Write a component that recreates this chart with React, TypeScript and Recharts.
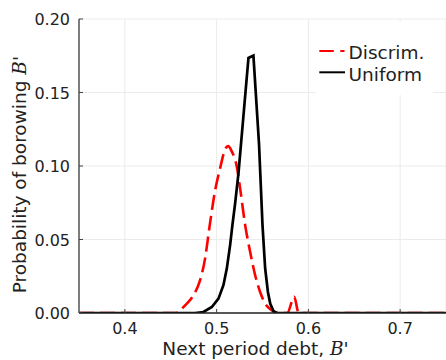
import React from 'react';
import { LineChart, Line, XAxis, YAxis, CartesianGrid, Legend, Label } from 'recharts';

// Discriminatory policy (red dashed)
const discrimX = [0.35, 0.456, 0.4583, 0.4656, 0.4747, 0.482, 0.4874, 0.4925, 0.4984, 0.5038, 0.5093, 0.5125, 0.5166, 0.522, 0.5256, 0.5311, 0.5365, 0.542, 0.5474, 0.5529, 0.5602, 0.5674, 0.577, 0.5845, 0.5895, 0.75];
const discrimY = [0, 0, 0.0007, 0.0052, 0.0121, 0.0223, 0.037, 0.0598, 0.0835, 0.0985, 0.1115, 0.1135, 0.1098, 0.0995, 0.0848, 0.0598, 0.0416, 0.0257, 0.0143, 0.0064, 0.0018, 0, 0, 0.011, 0, 0];

// Uniform policy (black solid)
const uniformX = [0.35, 0.4765, 0.4856, 0.4948, 0.502, 0.5074, 0.5111, 0.5147, 0.5172, 0.5202, 0.5238, 0.5347, 0.5401, 0.5462, 0.55, 0.5529, 0.5559, 0.5584, 0.562, 0.5657, 0.75];
const uniformY = [0, 0, 0.0007, 0.0041, 0.0098, 0.0189, 0.0302, 0.0462, 0.0598, 0.0748, 0.095, 0.1735, 0.1751, 0.115, 0.0598, 0.0303, 0.0143, 0.0064, 0.0012, 0, 0];

const xTicks = [0.4, 0.5, 0.6, 0.7];
const yTicks = [0, 0.05, 0.1, 0.15, 0.2];
const seriesNames = ['Discrim.', 'Uniform'];

const discrimData = discrimX.map((x, i) => ({ x, y: discrimY[i] }));
const uniformData = uniformX.map((x, i) => ({ x, y: uniformY[i] }));

const FONT = '"DejaVu Sans", sans-serif';
const TEXT = '#222';

const YTick = (props: any) => {
  const { x, y, payload } = props;
  return (
    <g>
      <line x1={x} x2={x + 4} y1={y} y2={y} stroke="#444" strokeWidth={1} />
      <text x={x - 9} y={y + 6} textAnchor="end" fontSize={16} fontFamily={FONT} fill={TEXT}>
        {Number(payload.value).toFixed(2)}
      </text>
    </g>
  );
};

const XTick = (props: any) => {
  const { x, y, payload } = props;
  return (
    <g>
      <line x1={x} x2={x} y1={y} y2={y - 4} stroke="#444" strokeWidth={1} />
      <text x={x} y={y + 20.5} textAnchor="middle" fontSize={16} fontFamily={FONT} fill={TEXT}>
        {Number(payload.value).toFixed(1)}
      </text>
    </g>
  );
};

const renderLegend = () => (
  <svg width={117} height={73} style={{ display: 'block' }}>
    <rect x={0} y={0} width={117} height={73} fill="#fff" />
    <line x1={3.3} x2={28.5} y1={29} y2={29} stroke="#ff0000" strokeWidth={2} strokeDasharray="14.5 6.5" />
    <text x={32.5} y={37.3} fontSize={18.5} fontFamily={FONT} fill={TEXT}>{seriesNames[0]}</text>
    <line x1={3.3} x2={29} y1={50.3} y2={50.3} stroke="#000" strokeWidth={2} />
    <text x={32.5} y={58.7} fontSize={18.5} fontFamily={FONT} fill={TEXT}>{seriesNames[1]}</text>
  </svg>
);

export default function App() {
  return (
    <div style={{ position: 'absolute', left: 0, top: 0, width: 446, height: 360, background: '#fff' }}>
      <LineChart width={446} height={360} margin={{ top: 19, right: 0, bottom: 0, left: 0 }}>
        <CartesianGrid stroke="#ebebeb" strokeWidth={1} />
        <XAxis
          dataKey="x"
          type="number"
          domain={[0.35, 0.75]}
          ticks={xTicks}
          allowDataOverflow
          height={47}
          tickSize={0}
          tickMargin={0}
          tickLine={false}
          tick={<XTick />}
          axisLine={{ stroke: '#222', strokeWidth: 1.5 }}
        >
          <Label
            content={() => (
              <text x={162.3} y={355} textAnchor="start" fontSize={18.5} fontFamily={FONT} fill={TEXT}>
                Next period debt,{' '}
                <tspan fontFamily='"DejaVu Serif", serif' fontStyle="italic">B</tspan>
                <tspan>'</tspan>
              </text>
            )}
          />
        </XAxis>
        <YAxis
          type="number"
          domain={[0, 0.2]}
          ticks={yTicks}
          allowDataOverflow
          width={79}
          tickSize={0}
          tickMargin={0}
          tickLine={false}
          tick={<YTick />}
          axisLine={{ stroke: '#555', strokeWidth: 1.5 }}
        >
          <Label
            content={() => (
              <text
                x={26}
                y={293.3}
                transform="rotate(-90 26 293.3)"
                textAnchor="start"
                fontSize={18.5}
                fontFamily={FONT}
                fill={TEXT}
              >
                Probability of borowing{' '}
                <tspan fontFamily='"DejaVu Serif", serif' fontStyle="italic">B</tspan>
                <tspan>'</tspan>
              </text>
            )}
          />
        </YAxis>
        <Legend
          layout="vertical"
          align="center"
          verticalAlign="middle"
          content={renderLegend}
          wrapperStyle={{ position: 'absolute', left: 316, top: 22, width: 117, height: 73 }}
        />
        <Line
          data={discrimData}
          dataKey="y"
          name={seriesNames[0]}
          type="monotone"
          stroke="#ff0000"
          strokeWidth={2.6}
          strokeDasharray="15 6"
          dot={false}
          activeDot={false}
          isAnimationActive={false}
        />
        <Line
          data={uniformData}
          dataKey="y"
          name={seriesNames[1]}
          type="linear"
          stroke="#000000"
          strokeWidth={2.7}
          dot={false}
          activeDot={false}
          isAnimationActive={false}
        />
      </LineChart>
    </div>
  );
}
